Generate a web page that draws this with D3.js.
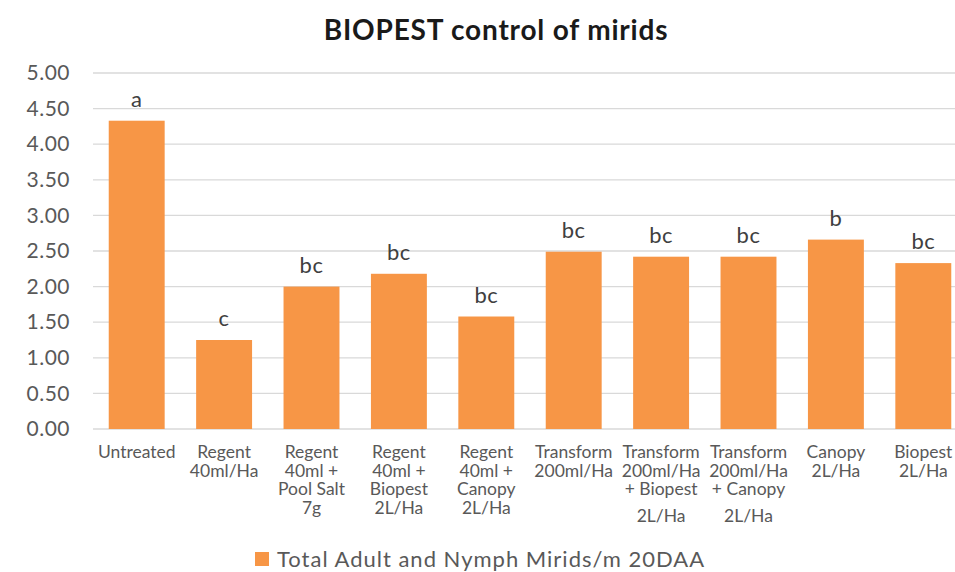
<!DOCTYPE html>
<html>
<head>
<meta charset="utf-8">
<script src="https://cdn.jsdelivr.net/npm/d3@7"></script>
<style>
  body { margin: 0; background: #fff; }
  svg text { font-family: "Lato", "DejaVu Sans", sans-serif; }
</style>
</head>
<body>
<svg id="chart" width="955" height="572"></svg>
<script>
// treatments, as the axis shows them (one entry per label line)
var categories = [
    ["Untreated"],
    ["Regent", "40ml/Ha"],
    ["Regent", "40ml +", "Pool Salt", "7g"],
    ["Regent", "40ml +", "Biopest", "2L/Ha"],
    ["Regent", "40ml +", "Canopy", "2L/Ha"],
    ["Transform", "200ml/Ha"],
    ["Transform", "200ml/Ha", "+ Biopest", "2L/Ha"],
    ["Transform", "200ml/Ha", "+ Canopy", "2L/Ha"],
    ["Canopy", "2L/Ha"],
    ["Biopest", "2L/Ha"]
];
var mirids = [4.33, 1.25, 2.00, 2.18, 1.58, 2.49, 2.42, 2.42, 2.66, 2.33];
var letters = ["a", "c", "bc", "bc", "bc", "bc", "bc", "bc", "b", "bc"];
var yTicks = [0, 0.5, 1, 1.5, 2, 2.5, 3, 3.5, 4, 4.5, 5];
var seriesName = "Total Adult and Nymph Mirids/m 20DAA";
var chartTitle = "BIOPEST control of mirids";

var orange = "#F79646",
    grid = "#D9D9D9",
    txt = "#595959";

var svg = d3.select("#chart"),
    margin = {top: 73, left: 93, bottom: 143, right: -12},
    width = 955 - margin.left - margin.right,
    height = 572 - margin.top - margin.bottom;

var g = svg.append("g").attr("transform", "translate(" + margin.left + "," + margin.top + ")");

var x = d3.scaleBand()
    .domain(d3.range(categories.length))
    .range([0, width])
    .paddingInner(0.36)
    .paddingOuter(0.18);

var y = d3.scaleLinear()
    .domain([0, 5])
    .range([height, 0]);

// grid lines
g.append("g")
    .selectAll("line")
    .data(yTicks)
    .enter().append("line")
    .attr("x1", 0)
    .attr("x2", width)
    .attr("y1", function (d) { return y(d); })
    .attr("y2", function (d) { return y(d); })
    .attr("stroke", grid)
    .attr("stroke-width", 1.3);

// y axis labels
var yAxis = g.append("g")
    .call(d3.axisLeft(y).tickValues(yTicks).tickSize(0).tickPadding(23).tickFormat(d3.format(".2f")));
yAxis.select(".domain").remove();
yAxis.selectAll("text")
    .attr("fill", txt)
    .style("font-size", "21px")
    .style("letter-spacing", "0.5px");

// bars
g.append("g")
    .selectAll("rect")
    .data(mirids)
    .enter().append("rect")
    .attr("x", function (d, i) { return x(i); })
    .attr("y", function (d) { return y(d); })
    .attr("width", x.bandwidth())
    .attr("height", function (d) { return height - y(d); })
    .attr("fill", orange);

// significance letters
g.append("g")
    .selectAll("text")
    .data(mirids)
    .enter().append("text")
    .attr("x", function (d, i) { return x(i) + x.bandwidth() / 2; })
    .attr("y", function (d) { return y(d) - 14; })
    .attr("text-anchor", "middle")
    .attr("fill", "#404040")
    .style("font-size", "22px")
    .style("letter-spacing", "0.5px")
    .text(function (d, i) { return letters[i]; });

// category labels
var xl = g.append("g")
    .selectAll("text")
    .data(categories)
    .enter().append("text")
    .attr("text-anchor", "middle")
    .attr("fill", txt)
    .style("font-size", "17.5px")
    .attr("transform", function (d, i) {
        return "translate(" + (x(i) + x.bandwidth() / 2) + "," + (height + 29) + ")";
    });
xl.selectAll("tspan")
    .data(function (d) { return d; })
    .enter().append("tspan")
    .attr("x", 0)
    .attr("y", function (d, j, nodes) {
        var lines = d3.select(nodes[j].parentNode).datum();
        var off = j * 18.5;
        // the Transform + ... labels wrap with an extra gap before the last line
        if (lines[0] == "Transform" && lines.length == 4 && j == 3) off += 8;
        return off;
    })
    .text(function (d) { return d; });

// title
svg.append("text")
    .attr("x", 496)
    .attr("y", 40)
    .attr("text-anchor", "middle")
    .attr("fill", "#1a1a1a")
    .style("font-size", "28px")
    .style("font-weight", "bold")
    .style("letter-spacing", "0.8px")
    .text(chartTitle);

// legend
var lg = svg.append("g").attr("transform", "translate(255,552)");
lg.append("rect")
    .attr("width", 14)
    .attr("height", 14)
    .attr("fill", orange);
lg.append("text")
    .attr("x", 22)
    .attr("y", 15)
    .attr("fill", txt)
    .style("font-size", "22px")
    .style("letter-spacing", "1px")
    .text(seriesName);
</script>
</body>
</html>
